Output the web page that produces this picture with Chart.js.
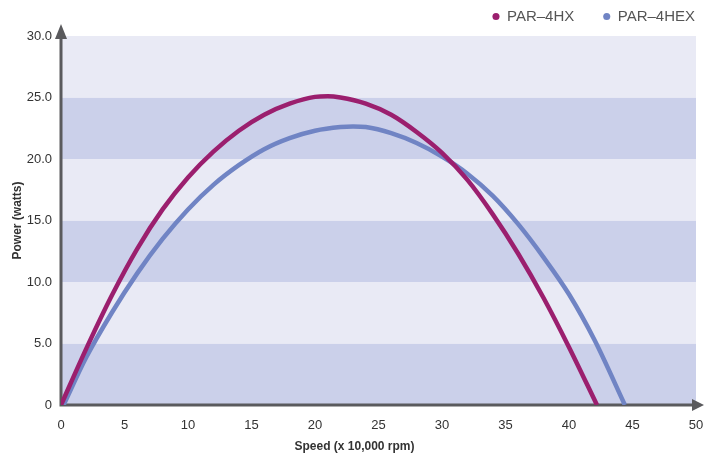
<!DOCTYPE html>
<html>
<head>
<meta charset="utf-8">
<script src="https://cdn.jsdelivr.net/npm/chart.js@4.4.1/dist/chart.umd.min.js"></script>
<style>
  html, body { margin: 0; padding: 0; background: #ffffff; }
  #wrap { width: 704px; height: 453px; }
</style>
</head>
<body>
<div id="wrap"><canvas id="c" width="704" height="453"></canvas></div>
<script>
// ---- data ----
const seriesNames = ['PAR\u20134HX', 'PAR\u20134HEX'];
const hxSpeed  = [0, 2, 4, 6, 8, 10, 12, 14, 16, 18, 20, 21, 22, 24, 26, 28, 30, 32, 34, 36, 38, 40, 42.2];
const hxPower  = [0, 4.6, 8.9, 12.7, 15.9, 18.5, 20.6, 22.3, 23.6, 24.5, 25.05, 25.1, 25.0, 24.5, 23.6, 22.2, 20.5, 18.3, 15.5, 12.3, 8.7, 4.7, 0];
const hexSpeed = [0.2, 2, 4, 6, 8, 10, 12, 14, 16, 18, 20, 22, 23, 24, 26, 28, 30, 32, 34, 36, 38, 40, 42, 44.4];
const hexPower = [0, 3.9, 7.5, 10.7, 13.5, 15.9, 17.9, 19.5, 20.8, 21.7, 22.3, 22.6, 22.65, 22.6, 22.1, 21.3, 20.2, 18.8, 17.0, 14.7, 12.0, 9.0, 5.3, 0];
const xTicks = [0, 5, 10, 15, 20, 25, 30, 35, 40, 45, 50];
const yTicks = [0, 5, 10, 15, 20, 25, 30];
const yTickLabels = ['0', '5.0', '10.0', '15.0', '20.0', '25.0', '30.0'];
const xTitle = 'Speed (x 10,000 rpm)';
const yTitle = 'Power (watts)';

const colHX = '#9b1f6e';
const colHEX = '#7084c4';
const bandDark = '#cbd0ea';
const bandLight = '#e9eaf5';
const axisCol = '#5a5a5d';

const toPts = (xs, ys) => xs.map((x, i) => ({ x: x, y: ys[i] }));

const bandsPlugin = {
  id: 'bands',
  beforeDatasetsDraw(chart) {
    const { ctx, chartArea } = chart;
    const y = chart.scales.y;
    ctx.save();
    for (let i = 0; i < yTicks.length - 1; i++) {
      const top = y.getPixelForValue(yTicks[i + 1]);
      const bot = y.getPixelForValue(yTicks[i]);
      ctx.fillStyle = (i % 2 === 0) ? bandDark : bandLight;
      ctx.fillRect(chartArea.left, top, chartArea.right - chartArea.left, bot - top);
    }
    // axes with arrowheads
    const x0 = chart.scales.x.getPixelForValue(xTicks[0]);
    const y0 = y.getPixelForValue(yTicks[0]);
    ctx.strokeStyle = axisCol;
    ctx.fillStyle = axisCol;
    ctx.lineWidth = 3;
    ctx.beginPath();
    ctx.moveTo(x0, y0 + 1.5);
    ctx.lineTo(x0, chartArea.top - 2);
    ctx.moveTo(x0 - 1.5, y0);
    ctx.lineTo(chartArea.right - 2, y0);
    ctx.stroke();
    // y arrow
    ctx.beginPath();
    ctx.moveTo(x0, chartArea.top - 12);
    ctx.lineTo(x0 - 6, chartArea.top + 3);
    ctx.lineTo(x0 + 6, chartArea.top + 3);
    ctx.closePath();
    ctx.fill();
    // x arrow
    ctx.beginPath();
    ctx.moveTo(chartArea.right + 8, y0);
    ctx.lineTo(chartArea.right - 4, y0 - 6);
    ctx.lineTo(chartArea.right - 4, y0 + 6);
    ctx.closePath();
    ctx.fill();
    ctx.restore();
  }
};

const layoutTweaks = {
  id: 'layoutTweaks',
  beforeLayout(chart) {
    const lg = chart.legend;
    if (lg && !lg._patched) {
      lg._patched = true;
      const fit = lg.fit;
      lg.fit = function () { fit.call(this); this.height = 36; };
      const d = lg._draw;
      lg._draw = function () {
        const ctx = this.ctx;
        ctx.save();
        ctx.translate(20, -20);
        d.apply(this, arguments);
        ctx.restore();
      };
    }
  },
  afterLayout(chart) {
    const xs = chart.scales.x;
    if (xs && !xs._patched) {
      xs._patched = true;
      const dt = xs.drawTitle;
      xs.drawTitle = function () {
        const ctx = this.ctx;
        ctx.save();
        ctx.translate(-24, 0);
        dt.apply(this, arguments);
        ctx.restore();
      };
    }
  }
};

new Chart(document.getElementById('c'), {
  type: 'line',
  data: {
    datasets: [
      { label: seriesNames[0], data: toPts(hxSpeed, hxPower), borderColor: colHX, backgroundColor: colHX,
        borderWidth: 4.5, pointRadius: 0, cubicInterpolationMode: 'monotone', fill: false },
      { label: seriesNames[1], data: toPts(hexSpeed, hexPower), borderColor: colHEX, backgroundColor: colHEX,
        borderWidth: 4.5, pointRadius: 0, cubicInterpolationMode: 'monotone', fill: false }
    ]
  },
  options: {
    responsive: false,
    animation: false,
    devicePixelRatio: 1,
    layout: { padding: 0 },
    plugins: {
      legend: {
        position: 'top',
        align: 'end',
        labels: {
          usePointStyle: true,
          pointStyle: 'circle',
          boxWidth: 7,
          boxHeight: 5,
          padding: 29,
          color: '#555555',
          font: { family: 'Liberation Sans', size: 15 },
          generateLabels(chart) {
            const items = Chart.defaults.plugins.legend.labels.generateLabels(chart);
            items.forEach(it => { it.lineWidth = 0; });
            return items;
          }
        }
      },
      tooltip: { enabled: false }
    },
    scales: {
      x: {
        type: 'linear',
        min: xTicks[0],
        max: xTicks[xTicks.length - 1],
        grid: { display: false, drawTicks: false },
        border: { display: false },
        afterBuildTicks(s) { s.ticks = xTicks.map(v => ({ value: v })); },
        afterFit(s) { s.height = 48; s.paddingRight = 8; s.paddingLeft = 0; },
        ticks: { padding: 13, color: '#333333', maxRotation: 0,
                 font: { family: 'Liberation Sans', size: 13 } },
        title: { display: true, text: xTitle, color: '#333333', padding: 0,
                 font: { family: 'Liberation Sans', size: 12, weight: 'bold', lineHeight: 1 } }
      },
      y: {
        type: 'linear',
        min: yTicks[0],
        max: yTicks[yTicks.length - 1],
        grid: { display: false, drawTicks: false },
        border: { display: false },
        afterBuildTicks(s) { s.ticks = yTicks.map(v => ({ value: v })); },
        afterFit(s) { s.width = 61; },
        ticks: { padding: 9, color: '#333333',
                 callback: (v) => yTickLabels[yTicks.indexOf(v)],
                 font: { family: 'Liberation Sans', size: 13 } },
        title: { display: true, text: yTitle, color: '#333333', padding: { top: 10, bottom: 0 },
                 font: { family: 'Liberation Sans', size: 12, weight: 'bold' } }
      }
    }
  },
  plugins: [bandsPlugin, layoutTweaks]
});
</script>
</body>
</html>
